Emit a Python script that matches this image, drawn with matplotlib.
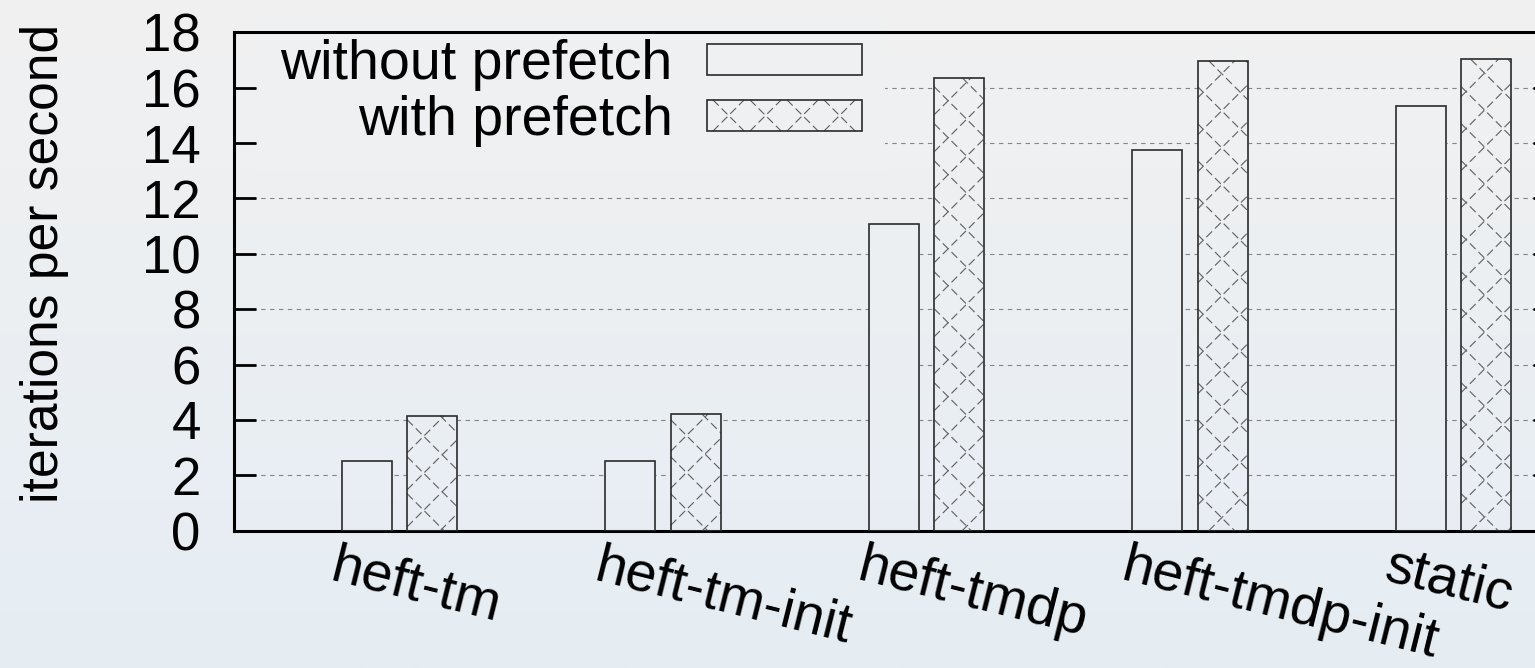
import numpy as np
import matplotlib
matplotlib.use('Agg')
import matplotlib.pyplot as plt
import matplotlib.transforms as mtransforms
from matplotlib.patches import Patch, Rectangle
from matplotlib.collections import LineCollection
from matplotlib.legend_handler import HandlerPatch
from matplotlib.colors import to_rgb

# ---------------------------------------------------------------------
# data
# ---------------------------------------------------------------------
categories = ['heft-tm', 'heft-tm-init', 'heft-tmdp', 'heft-tmdp-init', 'static']
without_prefetch = [2.53, 2.53, 11.07, 13.74, 15.35]
with_prefetch = [4.15, 4.20, 16.36, 16.97, 17.02]
series_names = ['without prefetch', 'with prefetch']
yticks = list(range(0, 19, 2))

plt.rcParams['font.family'] = ['Liberation Sans', 'DejaVu Sans']

W, H, DPI = 1535, 668, 200
FS = 20
fig = plt.figure(figsize=(W / DPI, H / DPI), dpi=DPI)

edge = '#2b2b2b'
hatch_col = '#646464'
hatch_ls = (0, (7.0, 3.5))
hatch_lw = 0.42
HATCH_PX = 37.0                       # spacing of the cross pattern, pixels
HATCH_PT = HATCH_PX * 72.0 / DPI


def diag_segments(x0, y0, w, h, d):
    """+45 and -45 degree lines spaced d apart, cut to the box."""
    segs = []
    for k in np.arange(x0 - y0 - h - d, x0 + w - y0 + d, d):
        # x - y = k
        a, b = max(x0, y0 + k), min(x0 + w, y0 + h + k)
        if b > a:
            segs.append([(a, a - k), (b, b - k)])
    for k in np.arange(x0 + y0, x0 + w + y0 + h + d, d):
        # x + y = k
        a, b = max(x0, k - y0 - h), min(x0 + w, k - y0)
        if b > a:
            segs.append([(a, k - a), (b, k - b)])
    return segs


class CrossHatchHandler(HandlerPatch):
    def create_artists(self, legend, orig_handle, xdescent, ydescent,
                       width, height, fontsize, trans):
        rect = Rectangle((-xdescent, -ydescent), width, height, facecolor='none',
                         edgecolor=edge, lw=0.6, transform=trans)
        segs = diag_segments(-xdescent, -ydescent, width, height, HATCH_PT)
        lc = LineCollection(segs, colors=hatch_col, linewidths=hatch_lw,
                            linestyles=[hatch_ls], transform=trans)
        return [lc, rect]


# soft grey -> pale blue background, top to bottom
c_top = np.array(to_rgb('#f1f1f1'))
c_bot = np.array(to_rgb('#e5edf4'))
t = np.linspace(0, 1, 256)[:, None, None]
grad = c_top * (1 - t) + c_bot * t

bg = fig.add_axes([0, 0, 1, 1], zorder=-10)
bg.imshow(grad, aspect='auto', extent=(0, 1, 0, 1), origin='upper')
bg.set_axis_off()

# main plot box (right edge runs past the figure)
x0, x1, ytop, ybot = 234, 1555, 32.3, 530.7
ax = fig.add_axes([x0 / W, (H - ybot) / H, (x1 - x0) / W, (ybot - ytop) / H])
ax.set_facecolor('none')

x = np.arange(len(categories))
bw = 0.19
off = 0.124

ax.set_axisbelow(True)
ax.yaxis.grid(True, color='#858585', lw=0.4, ls=(0, (4, 4)))

b1 = ax.bar(x - off, without_prefetch, bw, facecolor='none', edgecolor=edge, lw=0.6, zorder=3)
b2 = ax.bar(x + off, with_prefetch, bw, facecolor='none', edgecolor=edge, lw=0.6, zorder=3)

ax.set_xlim(-0.628, 4.385)
ax.set_ylim(0, 18)

# bars are opaque: fill them with the same background gradient
for p in list(b1) + list(b2):
    im = ax.imshow(grad, aspect='auto', extent=(0, 1, 0, 1), origin='upper',
                   transform=fig.transFigure, zorder=2.5)
    im.set_clip_path(p)

ax.set_xlim(-0.628, 4.385)
ax.set_ylim(0, 18)

# cross pattern for the prefetch bars, laid out in pixels so it stays at 45 deg
to_px = ax.transData
to_data = ax.transData.inverted()
for p in b2:
    (px0, py0), (px1, py1) = to_px.transform([p.get_xy(),
                                              (p.get_x() + p.get_width(), p.get_height())])
    segs = diag_segments(px0, py0, px1 - px0, py1 - py0, HATCH_PX)
    segs = [to_data.transform(s) for s in segs]
    ax.add_collection(LineCollection(segs, colors=hatch_col, linewidths=hatch_lw,
                                     linestyles=[hatch_ls], zorder=2.8))

ax.set_yticks(yticks)
ax.set_xticks([])
ax.tick_params(axis='y', direction='in', length=7.9, width=1.0, left=True, right=True,
               labelsize=19, pad=12, colors='black')
for s in ax.spines.values():
    s.set_linewidth(1.1)
    s.set_color('black')

# slanted category names
trans = mtransforms.blended_transform_factory(ax.transData, ax.transAxes)
for i, name in enumerate(categories):
    ax.text(i - 0.27, -0.098, name, transform=trans, rotation=-14, rotation_mode='anchor',
            ha='left', va='baseline', fontsize=FS, clip_on=False)

fig.text(45 / W, 1 - 263.5 / H, 'iterations per second', rotation=90,
         ha='center', va='center', fontsize=18.6)

# legend
h_wo = Patch(facecolor='none', edgecolor=edge, lw=0.6)
h_w = Patch(facecolor='none', edgecolor=edge, lw=0.6)
leg_bg = tuple(c_top * 0.85 + c_bot * 0.15)
leg = ax.legend([h_wo, h_w], series_names,
                handler_map={h_w: CrossHatchHandler()},
                loc='upper right', bbox_to_anchor=(885 / W, 1 - 16 / H),
                bbox_transform=fig.transFigure, borderaxespad=0,
                markerfirst=False, fontsize=FS, handlelength=2.78, handleheight=0.49,
                handletextpad=0.62, borderpad=0.42, labelspacing=0.07,
                fancybox=False, framealpha=1, facecolor=leg_bg, edgecolor='none')
leg.set_zorder(2)

fig.savefig('out.png', dpi=DPI)
